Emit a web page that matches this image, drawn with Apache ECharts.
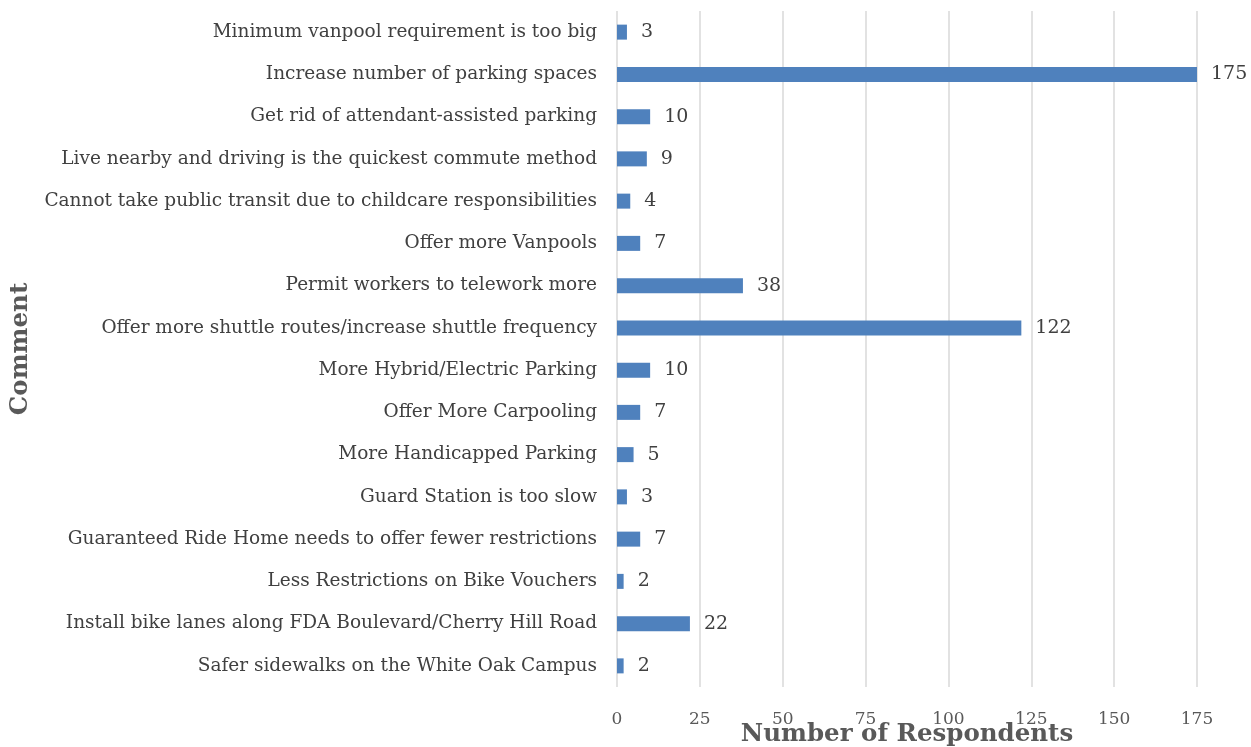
<!DOCTYPE html>
<html>
<head>
<meta charset="utf-8">
<script src="https://cdn.jsdelivr.net/npm/echarts@6/dist/echarts.min.js"></script>
<style>
  html, body { margin: 0; padding: 0; background: #fff; }
  #chart { width: 1251px; height: 747px; }
</style>
</head>
<body>
<div id="chart"></div>
<script>
// top to bottom as drawn
const comments = [
  "Minimum vanpool requirement is too big",
  "Increase number of parking spaces",
  "Get rid of attendant-assisted parking",
  "Live nearby and driving is the quickest commute method",
  "Cannot take public transit due to childcare responsibilities",
  "Offer more Vanpools",
  "Permit workers to telework more",
  "Offer more shuttle routes/increase shuttle frequency",
  "More Hybrid/Electric Parking",
  "Offer More Carpooling",
  "More Handicapped Parking",
  "Guard Station is too slow",
  "Guaranteed Ride Home needs to offer fewer restrictions",
  "Less Restrictions on Bike Vouchers",
  "Install bike lanes along FDA Boulevard/Cherry Hill Road",
  "Safer sidewalks on the White Oak Campus"
];
const respondents = [3, 175, 10, 9, 4, 7, 38, 122, 10, 7, 5, 3, 7, 2, 22, 2];

const serif = "Georgia, 'DejaVu Serif', serif";
const myChart = echarts.init(document.getElementById("chart"));

const options = {
  animation: false,
  textStyle: { fontFamily: serif },
  grid: {
    left: 617,
    right: 54,
    top: 11,
    bottom: 60,
    containLabel: false,
    outerBoundsMode: "none"
  },
  xAxis: {
    type: "value",
    min: 0,
    max: 175,
    interval: 25,
    name: "Number of Respondents",
    nameLocation: "center",
    nameGap: 35,
    nameMoveOverlap: false,
    nameTextStyle: { fontFamily: serif, fontSize: 24.5, fontWeight: "bold", color: "#595959" },
    axisLabel: { fontFamily: serif, fontSize: 17, color: "#595959", margin: 24 },
    axisLine: { show: false },
    axisTick: { show: false },
    splitLine: { show: true, lineStyle: { color: "#d9d9d9", width: 1.5 } }
  },
  yAxis: {
    type: "category",
    data: comments,
    inverse: true,
    name: "Comment",
    nameLocation: "center",
    nameGap: 584,
    nameMoveOverlap: false,
    nameRotate: 90,
    nameTextStyle: { fontFamily: serif, fontSize: 24.5, fontWeight: "bold", color: "#595959" },
    axisLabel: { fontFamily: serif, fontSize: 18.5, color: "#404040", margin: 20 },
    axisLine: { show: false },
    axisTick: { show: false },
    splitLine: { show: false }
  },
  series: [{
    type: "bar",
    data: respondents,
    barWidth: 15,
    itemStyle: { color: "#4f81bd" },
    label: {
      show: true,
      position: "right",
      distance: 14,
      fontFamily: serif,
      fontSize: 19,
      color: "#404040"
    }
  }]
};

myChart.setOption(options);
</script>
</body>
</html>
